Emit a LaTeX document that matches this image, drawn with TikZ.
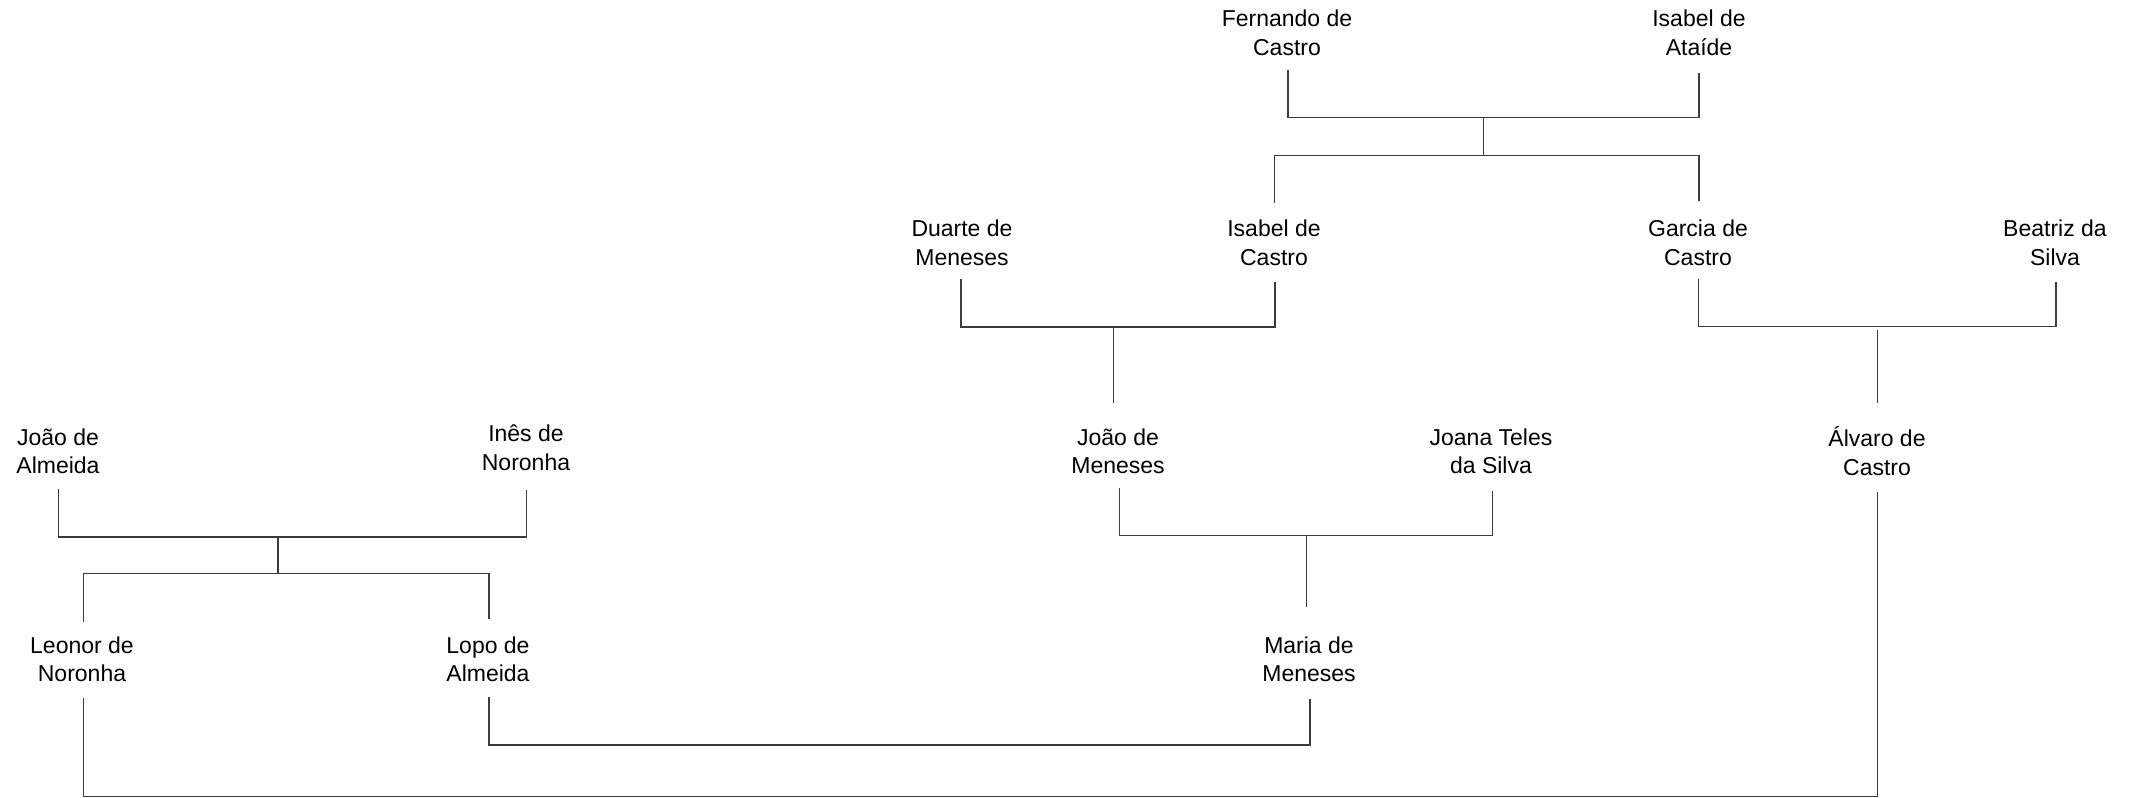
\documentclass[tikz,border=0pt]{standalone}
\usepackage{fontspec}
\setmainfont{Liberation Sans}
\usetikzlibrary{calc}
\definecolor{linkGray}{HTML}{3C3C3C}
\newcommand{\pname}[2]{\begin{tabular}[t]{@{}c@{}}#1\\#2\end{tabular}}

\begin{document}
\begin{tikzpicture}[
  x=0.5pt, y=-0.5pt,
  %% Node styles
  person/.style={
    anchor=base, inner sep=0pt, outer sep=0pt,
    font=\fontsize{11.5}{14.3}\selectfont
  },
  %% Line styles
  link/.style={draw=linkGray, line width=0.75pt},
]
\useasboundingbox (0,0) rectangle (2133,798);

%% ── Generation 1 ───────────────────────────────────────────────────────────
\node[person] (fer) at (1287,26.7) {\pname{Fernando de}{Castro}};
\node[person] (ata) at (1699,26.7) {\pname{Isabel de}{Ataíde}};

%% ── Generation 2 ───────────────────────────────────────────────────────────
\node[person] (dua) at (962,236.7)  {\pname{Duarte de}{Meneses}};
\node[person] (isc) at (1274,236.7) {\pname{Isabel de}{Castro}};
\node[person] (gar) at (1698,236.5) {\pname{Garcia de}{Castro}};
\node[person] (bea) at (2055,236.5) {\pname{Beatriz da}{Silva}};

%% ── Generation 3 ───────────────────────────────────────────────────────────
\node[person] (jal) at (58,445)    {\pname{João de}{Almeida}};
\node[person] (ine) at (526,441.5) {\pname{Inês de}{Noronha}};
\node[person] (jme) at (1118,445)  {\pname{João de}{Meneses}};
\node[person] (joa) at (1491,445)  {\pname{Joana Teles}{da Silva}};
\node[person] (alv) at (1877,446.7){\pname{Álvaro de}{Castro}};

%% ── Generation 4 ───────────────────────────────────────────────────────────
\node[person] (leo) at (82,653)    {\pname{Leonor de}{Noronha}};
\node[person] (lop) at (488,653.3) {\pname{Lopo de}{Almeida}};
\node[person] (mar) at (1309,653.3){\pname{Maria de}{Meneses}};

%% ── Junctions ──────────────────────────────────────────────────────────────
\coordinate (c1) at (1483.3,117.7);   \coordinate (k1) at (1483.3,155.3);
\coordinate (c2) at (1113.3,327);
\coordinate (c3) at (1877.7,326.7);
\coordinate (c4) at (278,537);        \coordinate (k4) at (278,573.7);
\coordinate (c5) at (1306.3,535.7);
\coordinate (c6) at (900,745);
\coordinate (c7) at (1000,796.5);

%% ── Couples ────────────────────────────────────────────────────────────────
\draw[link] ($(fer.base)+(1,43.5)$) |- (c1) -| ($(ata.base)+(0,46)$);
\draw[link] ($(dua.base)+(-1,42.3)$) |- (c2) -| ($(isc.base)+(1,45.3)$);
\draw[link] ($(gar.base)+(0.3,42.5)$) |- (c3) -| ($(bea.base)+(1,45.2)$);
\draw[link] ($(jal.base)+(0.3,44.3)$) |- (c4) -| ($(ine.base)+(0.4,48.2)$);
\draw[link] ($(jme.base)+(1.3,43.3)$) |- (c5) -| ($(joa.base)+(1.3,45.7)$);
\draw[link] ($(lop.base)+(1,44)$) |- (c6) -| ($(mar.base)+(1,46)$);
\draw[link] ($(leo.base)+(1.3,45.3)$) |- (c7) -| ($(alv.base)+(0.3,45)$);

%% ── Descent ────────────────────────────────────────────────────────────────
\draw[link] (c1) -- (k1);
\draw[link] ($(isc.base)+(0.3,-34)$) |- (k1) -| ($(gar.base)+(1,-35.5)$);
\draw[link] (c2) -- ($(c2)+(0,76)$);
\draw[link] ($(c3)+(0,3.3)$) -- ($(c3)+(0,76)$);
\draw[link] (c4) -- (k4);
\draw[link] ($(leo.base)+(1.3,-31.3)$) |- (k4) -| ($(lop.base)+(1,-34.3)$);
\draw[link] (c5) -- ($(c5)+(0,71)$);

\end{tikzpicture}
\end{document}
